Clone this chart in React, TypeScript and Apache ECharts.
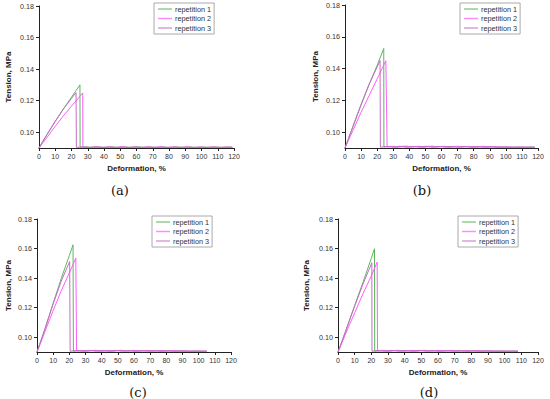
import { useEffect, useRef } from "react";
import * as echarts from "echarts";

const SERIES_NAMES = ["repetition 1", "repetition 2", "repetition 3"];
const SERIES_COLORS = ["#5cb85c", "#ff5cff", "#c46ec4"];
const LEGEND_COLORS = ["#8fcf8f", "#ff8cff", "#d7a0d7"];
const Y_TICKS = [0.1, 0.12, 0.14, 0.16, 0.18];
const CAPTIONS = ["(a)", "(b)", "(c)", "(d)"];
const X_TITLE = "Deformation, %";
const Y_TITLE = "Tension, MPa";

// (a)
const a1 = [[0,0.09],[2,0.0935],[5,0.0985],[10,0.1068],[15,0.1147],[20,0.1222],[25.2,0.13],[25.3,0.0904],[29,0.0907],[33,0.0903],[37,0.0906],[41,0.0904],[45,0.0907],[49,0.0903],[53,0.0906],[57,0.0904],[61,0.0907],[65,0.0903],[69,0.0906],[73,0.0904],[77,0.0906],[81,0.0903],[85,0.0906],[89,0.0904],[93,0.0906],[97,0.0903],[101,0.0906],[105,0.0904],[109,0.0906],[113,0.0903],[117,0.0905],[119,0.0904]];
const a2 = [[0,0.09],[2,0.0928],[5,0.0968],[10,0.1038],[15,0.1104],[20,0.1165],[26.9,0.1249],[27,0.0905],[31,0.0903],[35,0.0906],[39,0.0904],[43,0.0906],[47,0.0903],[51,0.0907],[55,0.0904],[59,0.0906],[63,0.0903],[67,0.0906],[71,0.0904],[75,0.0907],[79,0.0903],[83,0.0905],[87,0.0904],[91,0.0906],[95,0.0903],[99,0.0905],[103,0.0904],[107,0.0906],[111,0.0903],[115,0.0905],[119,0.0904]];
const a3 = [[0,0.09],[2,0.0936],[5,0.0988],[10,0.107],[15,0.1148],[20,0.1214],[22.8,0.125],[23,0.0904],[27,0.0907],[31,0.0904],[35,0.0908],[39,0.0903],[43,0.0906],[47,0.0904],[51,0.0907],[55,0.0903],[59,0.0906],[63,0.0904],[67,0.0907],[71,0.0903],[75,0.0906],[79,0.0904],[83,0.0907],[87,0.0903],[91,0.0906],[95,0.0904],[99,0.0906],[103,0.0903],[107,0.0906],[111,0.0904],[115,0.0906],[119,0.0905]];

// (b)
const b1 = [[0,0.09],[2,0.0955],[5,0.1035],[10,0.117],[15,0.13],[20,0.142],[24.1,0.1527],[24.2,0.0906],[28,0.091],[32,0.0905],[36,0.0911],[40,0.0906],[44,0.091],[48,0.0905],[52,0.0911],[56,0.0906],[60,0.091],[64,0.0905],[68,0.0909],[72,0.0906],[76,0.091],[80,0.0905],[84,0.0909],[88,0.0905],[92,0.0908],[96,0.0904],[100,0.0907],[104,0.0904],[108,0.0906],[112,0.0904],[116,0.0906],[118,0.0905]];
const b2 = [[0,0.09],[2,0.0945],[5,0.1012],[10,0.1125],[15,0.123],[20,0.1335],[25.4,0.1449],[26.2,0.0906],[30,0.0911],[34,0.0906],[38,0.0912],[42,0.0906],[46,0.0911],[50,0.0905],[54,0.0912],[58,0.0906],[62,0.0911],[66,0.0905],[70,0.0911],[74,0.0906],[78,0.091],[82,0.0905],[86,0.0911],[90,0.0906],[94,0.0909],[98,0.0904],[102,0.0907],[106,0.0904],[110,0.0906],[114,0.0904],[118,0.0905]];
const b3 = [[0,0.09],[2,0.0955],[5,0.1038],[10,0.1175],[15,0.1302],[20,0.141],[21.8,0.145],[22,0.0905],[26,0.091],[30,0.0905],[34,0.0911],[38,0.0905],[42,0.091],[46,0.0906],[50,0.0911],[54,0.0905],[58,0.091],[62,0.0906],[66,0.091],[70,0.0905],[74,0.091],[78,0.0905],[82,0.0909],[86,0.0905],[90,0.0909],[94,0.0905],[98,0.0907],[102,0.0904],[106,0.0906],[110,0.0904],[114,0.0906],[118,0.0904]];

// (c)
const c1 = [[0,0.09],[2,0.0962],[5,0.106],[10,0.123],[15,0.1398],[20,0.1553],[22.3,0.1625],[22.5,0.0905],[26,0.091],[30,0.0905],[34,0.0911],[38,0.0906],[42,0.091],[46,0.0905],[50,0.0911],[54,0.0906],[58,0.091],[62,0.0905],[66,0.0909],[70,0.0906],[74,0.091],[78,0.0905],[82,0.0909],[86,0.0905],[90,0.0908],[94,0.0904],[98,0.0907],[102,0.0905],[105,0.0906]];
const c2 = [[0,0.09],[2,0.0955],[5,0.104],[10,0.118],[15,0.1315],[20,0.1435],[24,0.1535],[24.5,0.0906],[28,0.0911],[32,0.0906],[36,0.0912],[40,0.0905],[44,0.0911],[48,0.0906],[52,0.0912],[56,0.0905],[60,0.0911],[64,0.0906],[68,0.0911],[72,0.0905],[76,0.091],[80,0.0906],[84,0.0909],[88,0.0905],[92,0.0908],[96,0.0904],[100,0.0907],[105,0.0905]];
const c3 = [[0,0.09],[2,0.0962],[5,0.1058],[10,0.1225],[15,0.138],[20.2,0.1512],[20.5,0.0905],[24,0.091],[28,0.0905],[32,0.0911],[36,0.0906],[40,0.091],[44,0.0905],[48,0.0911],[52,0.0906],[56,0.091],[60,0.0905],[64,0.091],[68,0.0906],[72,0.0909],[76,0.0905],[80,0.0909],[84,0.0905],[88,0.0908],[92,0.0905],[96,0.0907],[100,0.0904],[105,0.0906]];

// (d)
const d1 = [[0,0.09],[2,0.096],[5,0.1055],[10,0.1215],[15,0.1372],[20,0.1535],[21.9,0.1599],[22,0.0905],[26,0.091],[30,0.0905],[34,0.0911],[38,0.0906],[42,0.091],[46,0.0905],[50,0.0911],[54,0.0906],[58,0.091],[62,0.0905],[66,0.0909],[70,0.0906],[74,0.091],[78,0.0905],[82,0.0909],[86,0.0905],[90,0.0908],[94,0.0904],[98,0.0907],[102,0.0905],[106,0.0906],[108,0.0905]];
const d2 = [[0,0.09],[2,0.0952],[5,0.1035],[10,0.1165],[15,0.1295],[20,0.1415],[23.5,0.1508],[23.7,0.0906],[28,0.0911],[32,0.0906],[36,0.0912],[40,0.0905],[44,0.0911],[48,0.0906],[52,0.0912],[56,0.0905],[60,0.0911],[64,0.0906],[68,0.0911],[72,0.0905],[76,0.091],[80,0.0906],[84,0.0909],[88,0.0905],[92,0.0908],[96,0.0904],[100,0.0907],[104,0.0905],[108,0.0906]];
const d3 = [[0,0.09],[2,0.096],[5,0.1055],[10,0.121],[15,0.136],[20.3,0.1504],[20.4,0.0905],[24,0.091],[28,0.0905],[32,0.0911],[36,0.0906],[40,0.091],[44,0.0905],[48,0.0911],[52,0.0906],[56,0.091],[60,0.0905],[64,0.091],[68,0.0906],[72,0.0909],[76,0.0905],[80,0.0909],[84,0.0905],[88,0.0908],[92,0.0905],[96,0.0907],[100,0.0904],[104,0.0906],[108,0.0905]];

const PANEL_DATA = [[a1, a2, a3], [b1, b2, b3], [c1, c2, c3], [d1, d2, d3]];

// layout (px)
const PANELS = [
  { left: 39, top: 6, width: 195, height: 142, legendLeft: 154, legendTop: 3, capX: 120, capY: 190, yGap: 27 },
  { left: 345, top: 5, width: 193, height: 143, legendLeft: 460, legendTop: 3, capX: 422, capY: 190, yGap: 26 },
  { left: 37, top: 219, width: 194, height: 133, legendLeft: 152, legendTop: 216, capX: 138, capY: 392, yGap: 25 },
  { left: 338, top: 219, width: 200, height: 133, legendLeft: 458, legendTop: 216, capX: 429, capY: 392, yGap: 28 },
];

const FONT = "Arial, 'Liberation Sans', sans-serif";

export default function App() {
  const ref = useRef<HTMLDivElement>(null);
  useEffect(() => {
    if (!ref.current) return;
    const chart = echarts.init(ref.current, undefined, { renderer: "svg" });
    const axisLine = { show: true, lineStyle: { color: "#222", width: 1 } };
    const option: any = {
      animation: false,
      backgroundColor: "#fff",
      grid: PANELS.map((p) => ({ left: p.left, top: p.top, width: p.width, height: p.height, containLabel: false })),
      xAxis: PANELS.map((p, i) => ({
        type: "value",
        gridIndex: i,
        min: 0,
        max: 120,
        interval: 10,
        name: X_TITLE,
        nameLocation: "middle",
        nameGap: 16,
        nameTextStyle: { fontFamily: FONT, fontSize: 8, fontWeight: "bold", color: "#222" },
        axisLine,
        axisTick: { show: true, length: 3, lineStyle: { color: "#222" } },
        axisLabel: { fontFamily: FONT, fontSize: 7, color: "#333", margin: 5 },
        splitLine: { show: false },
      })),
      yAxis: PANELS.map((p, i) => ({
        type: "value",
        gridIndex: i,
        min: 0.09,
        max: 0.18,
        name: Y_TITLE,
        nameLocation: "middle",
        nameGap: p.yGap,
        nameTextStyle: { fontFamily: FONT, fontSize: 8, fontWeight: "bold", color: "#222" },
        axisLine,
        axisTick: { show: true, length: 3, customValues: Y_TICKS, lineStyle: { color: "#222" } },
        axisLabel: {
          fontFamily: FONT,
          fontSize: 7.2,
          color: "#333",
          margin: 5,
          customValues: Y_TICKS,
          formatter: (v: number) => v.toFixed(2),
        },
        splitLine: { show: false },
      })),
      legend: PANELS.map((p) => ({
        data: SERIES_NAMES.map((n, k) => ({
          name: n,
          icon: "rect",
          itemStyle: { color: LEGEND_COLORS[k] },
        })),
        orient: "vertical",
        left: p.legendLeft,
        top: p.legendTop,
        padding: [2, 3, 2, 4],
        itemWidth: 14,
        itemHeight: 1.5,
        itemGap: 1.5,
        borderColor: "#aaa",
        borderWidth: 1,
        backgroundColor: "#fff",
        textStyle: { fontFamily: FONT, fontSize: 7.3, lineHeight: 8, color: "#333", padding: [0, 0, 0, -2] },
        selectedMode: false,
      })),
      series: PANEL_DATA.flatMap((group, gi) =>
        group.map((data, si) => ({
          type: "line",
          name: SERIES_NAMES[si],
          xAxisIndex: gi,
          yAxisIndex: gi,
          data,
          showSymbol: false,
          symbol: "none",
          color: SERIES_COLORS[si],
          lineStyle: { width: 1, color: SERIES_COLORS[si] },
          z: 2 + si,
        }))
      ),
      graphic: PANELS.map((p, i) => ({
        type: "text",
        x: p.capX,
        y: p.capY,
        style: {
          text: CAPTIONS[i],
          fontFamily: "DejaVu Serif",
          fontSize: 13,
          fill: "#111",
          textAlign: "center",
          textVerticalAlign: "middle",
        },
      })),
    };
    chart.setOption(option);
    return () => chart.dispose();
  }, []);
  return <div ref={ref} style={{ width: 550, height: 399, position: "absolute", left: 0, top: 0 }} />;
}
